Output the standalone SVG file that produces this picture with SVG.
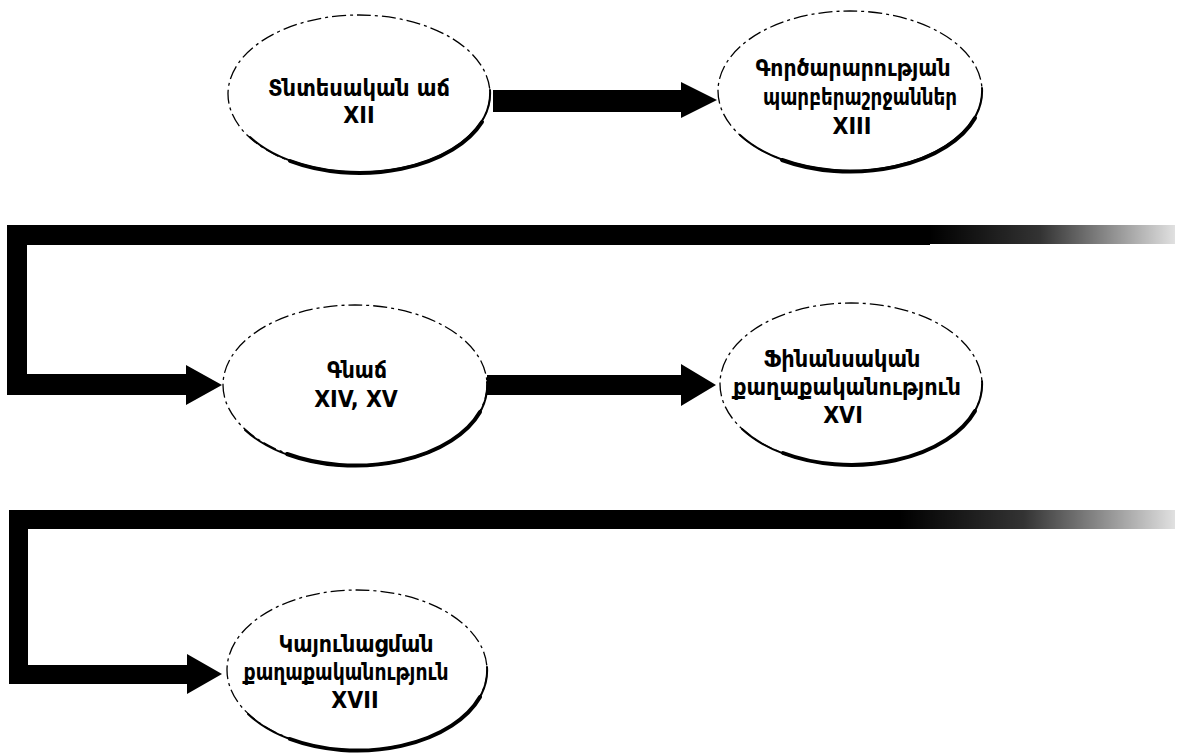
<svg xmlns="http://www.w3.org/2000/svg" width="1190" height="753" viewBox="0 0 1190 753">
  <defs>
    <linearGradient id="fade" x1="0" y1="0" x2="1" y2="0">
      <stop offset="0" stop-color="#000" stop-opacity="1"/>
      <stop offset="0.45" stop-color="#000" stop-opacity="0.8"/>
      <stop offset="1" stop-color="#000" stop-opacity="0.12"/>
    </linearGradient>
  </defs>
  <style>
    .node ellipse { fill: #fff; stroke: #000; stroke-width: 1.3; stroke-dasharray: 14 4 3 4; }
    .shadow { fill: none; stroke: #000; stroke-linecap: round; }
    .s1 { stroke-width: 2; }
    .s2 { stroke-width: 4; }
    .node text { font-family: "DejaVu Sans Condensed", "DejaVu Sans", sans-serif; font-weight: bold; font-size: 23px; fill: #000; text-anchor: middle; }
    .conn { fill: #000; }
  </style>
  <rect width="1190" height="753" fill="#fff"/>

  <g id="connectors">
    <path class="conn" d="M493,90 L681,90 L681,82 L717,100 L681,118 L681,112 L493,112 Z"/>
    <path class="conn" d="M487,375 L681,375 L681,364 L716,385 L681,406 L681,395 L487,395 Z"/>
    <path class="conn" d="M930,225 L7,225 L7,395 L186,395 L186,405 L222,385 L186,365 L186,374 L27,374 L27,245 L930,245 Z"/>
    <rect x="930" y="225" width="245" height="19" fill="url(#fade)"/>
    <path class="conn" d="M900,510 L9,510 L9,684 L187,684 L187,694 L222,674 L187,654 L187,665 L28,665 L28,529 L900,529 Z"/>
    <rect x="900" y="510" width="275" height="19" fill="url(#fade)"/>
  </g>

  <g id="node1" class="node">
    <ellipse cx="359" cy="94" rx="131" ry="79"/>
    <path class="shadow s1" d="M250,137 A131 79 0 0 0 490,90"/>
    <path class="shadow s2" d="M290,161 A131 79 0 0 0 482,122"/>
    <text x="359" y="96" textLength="182" lengthAdjust="spacingAndGlyphs">Տնտեսական աճ</text>
    <text x="359" y="123">XII</text>
  </g>

  <g id="node2" class="node">
    <ellipse cx="850" cy="91" rx="132" ry="80"/>
    <path class="shadow s1" d="M740,135 A132 80 0 0 0 982,88"/>
    <path class="shadow s2" d="M782,160 A132 80 0 0 0 975,118"/>
    <text x="853" y="76" textLength="195" lengthAdjust="spacingAndGlyphs">Գործարարության</text>
    <text x="860" y="105" textLength="194" lengthAdjust="spacingAndGlyphs">պարբերաշրջաններ</text>
    <text x="852" y="134">XIII</text>
  </g>

  <g id="node3" class="node">
    <ellipse cx="355" cy="385" rx="132" ry="80"/>
    <path class="shadow s1" d="M245,430 A132 80 0 0 0 487,382"/>
    <path class="shadow s2" d="M287,454 A132 80 0 0 0 480,412"/>
    <text x="357" y="378" textLength="60" lengthAdjust="spacingAndGlyphs">Գնաճ</text>
    <text x="356" y="407">XIV, XV</text>
  </g>

  <g id="node4" class="node">
    <ellipse cx="851" cy="384" rx="131" ry="81"/>
    <path class="shadow s1" d="M742,429 A131 81 0 0 0 982,381"/>
    <path class="shadow s2" d="M783,453 A131 81 0 0 0 975,411"/>
    <text x="842" y="367" textLength="157" lengthAdjust="spacingAndGlyphs">Ֆինանսական</text>
    <text x="847" y="395" textLength="228" lengthAdjust="spacingAndGlyphs">քաղաքականություն</text>
    <text x="843" y="423">XVI</text>
  </g>

  <g id="node5" class="node">
    <ellipse cx="357" cy="670" rx="130" ry="80"/>
    <path class="shadow s1" d="M248,714 A130 80 0 0 0 487,667"/>
    <path class="shadow s2" d="M290,739 A130 80 0 0 0 480,697"/>
    <text x="356" y="652" textLength="155" lengthAdjust="spacingAndGlyphs">Կայունացման</text>
    <text x="346" y="680" textLength="205" lengthAdjust="spacingAndGlyphs">քաղաքականություն</text>
    <text x="355" y="708">XVII</text>
  </g>
</svg>
